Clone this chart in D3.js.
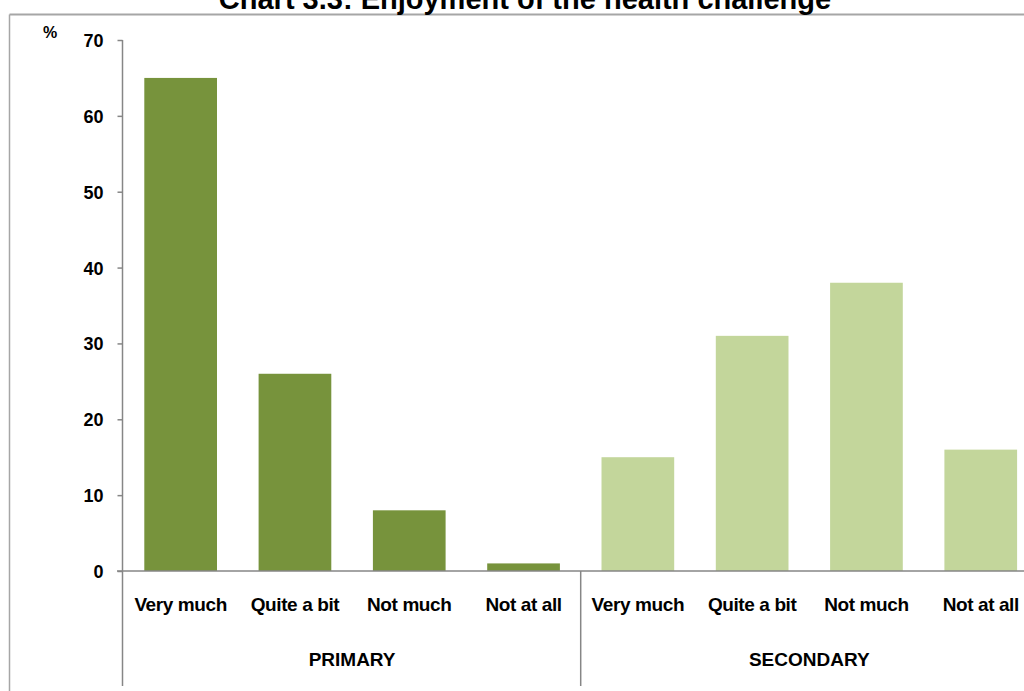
<!DOCTYPE html>
<html>
<head>
<meta charset="utf-8">
<script src="https://cdn.jsdelivr.net/npm/d3@7"></script>
<style>
  html, body { margin: 0; padding: 0; background: #fff; }
  svg { display: block; font-family: "Liberation Sans", Arial, sans-serif; }
</style>
</head>
<body>
<svg id="chart" width="1024" height="691"></svg>
<script>
const title = "Chart 3.3: Enjoyment of the health challenge";
const groups = ["PRIMARY", "SECONDARY"];
const responses = ["Very much", "Quite a bit", "Not much", "Not at all"];
const primaryValues = [65, 26, 8, 1];
const secondaryValues = [15, 31, 38, 16];
const yTicks = [0, 10, 20, 30, 40, 50, 60, 70];
const groupColors = ["#77933C", "#C3D69B"];

const data = [];
groups.forEach((g, gi) => {
  const vals = gi === 0 ? primaryValues : secondaryValues;
  responses.forEach((r, ri) => {
    data.push({ key: g + "|" + r, group: g, gi, label: r, value: vals[ri] });
  });
});

const svg = d3.select("#chart");
const axisColor = "#868686";

// outer frame (partly off-canvas)
svg.append("line").attr("x1", 9.5).attr("x2", 1030).attr("y1", 14.5).attr("y2", 14.5)
  .attr("stroke", "#a6a6a6").attr("stroke-width", 2);
svg.append("line").attr("x1", 9.5).attr("x2", 9.5).attr("y1", 14.5).attr("y2", 700)
  .attr("stroke", "#a6a6a6").attr("stroke-width", 1.5);

// title (partly cut off at the top, as in the reference)
svg.append("text").attr("x", 525).attr("y", 9).attr("text-anchor", "middle")
  .attr("font-size", 29).attr("font-weight", "bold").attr("fill", "#000").text(title);

const x = d3.scaleBand().domain(data.map(d => d.key))
  .range([123.5, 123.5 + 8 * 114.3]).paddingInner(0.364).paddingOuter(0.182);
const y = d3.scaleLinear().domain([0, 70]).range([571, 40]);

// bars
svg.append("g").selectAll("rect").data(data).join("rect")
  .attr("x", d => x(d.key)).attr("width", x.bandwidth())
  .attr("y", d => y(d.value)).attr("height", d => y(0) - y(d.value))
  .attr("fill", d => groupColors[d.gi]);

// y axis
const yAxis = svg.append("g").attr("transform", "translate(122.5,0)")
  .call(d3.axisLeft(y).tickValues(yTicks).tickSize(5).tickSizeOuter(0).tickFormat(d3.format("d")));
yAxis.select(".domain").remove();
yAxis.selectAll(".tick line").attr("stroke", axisColor).attr("stroke-width", 1.5);
yAxis.selectAll(".tick text").attr("x", -19).attr("dy", "0.36em")
  .attr("font-size", 18).attr("font-weight", "bold").attr("fill", "#000")
  .attr("font-family", "Liberation Sans, Arial, sans-serif");
svg.append("line").attr("x1", 122.5).attr("x2", 122.5).attr("y1", 40).attr("y2", 686)
  .attr("stroke", axisColor).attr("stroke-width", 1.5);

svg.append("text").attr("x", 50).attr("y", 38).attr("text-anchor", "middle")
  .attr("font-size", 16).attr("font-weight", "bold").text("%");

// x axis baseline
svg.append("line").attr("x1", 117).attr("x2", 1024).attr("y1", y(0)).attr("y2", y(0))
  .attr("stroke", axisColor).attr("stroke-width", 1.5);

// category labels
const xAxis = svg.append("g").attr("transform", `translate(0,${y(0)})`)
  .call(d3.axisBottom(x).tickSize(0).tickFormat(k => k.split("|")[1]));
xAxis.select(".domain").remove();
xAxis.selectAll(".tick text").attr("y", 40).attr("dy", 0)
  .attr("font-size", 19).attr("font-weight", "bold").attr("letter-spacing", "-0.4px")
  .attr("fill", "#000").attr("font-family", "Liberation Sans, Arial, sans-serif");

// group divider and labels
const step = x.step();
groups.forEach((g, gi) => {
  const keys = data.filter(d => d.gi === gi).map(d => d.key);
  const x0 = x(keys[0]) - x.paddingInner() * step / 2;
  const x1 = x(keys[keys.length - 1]) + x.bandwidth() + x.paddingInner() * step / 2;
  if (gi > 0) {
    svg.append("line").attr("x1", x0).attr("x2", x0).attr("y1", y(0)).attr("y2", 686)
      .attr("stroke", axisColor).attr("stroke-width", 1.5);
  }
  svg.append("text").attr("x", (x0 + x1) / 2).attr("y", 666).attr("text-anchor", "middle")
    .attr("font-size", 19).attr("font-weight", "bold").attr("fill", "#000").text(g);
});
</script>
</body>
</html>
